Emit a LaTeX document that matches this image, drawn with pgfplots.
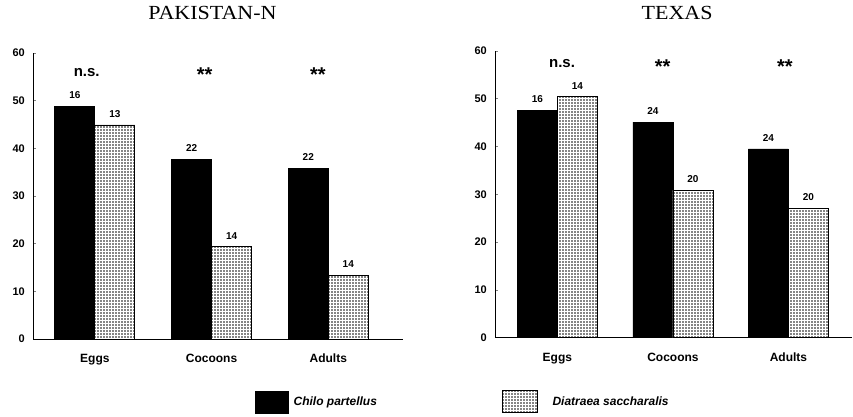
\documentclass[border=0pt]{standalone}
\usepackage{fontspec}
\setmainfont{Liberation Sans}
\newfontfamily\titlefont{Liberation Serif}
\usepackage{pgfplots}
\pgfplotsset{compat=1.18}
\usetikzlibrary{patterns}

\pgfplotstableread{
x y label
0 48.8 16
1 37.7 22
2 35.8 22
}\pakblack
\pgfplotstableread{
x y label
0 44.9 13
1 19.4 14
2 13.4 14
}\pakgrey
\pgfplotstableread{
x y label
-0.07 56.0 n.s.
}\pakns
\pgfplotstableread{
x y label
0.94 55.4 **
1.91 55.4 **
}\pakstars
\pgfplotstableread{
x y label
0 47.6 16
1 45.1 24
2 39.5 24
}\texblack
\pgfplotstableread{
x y label
0 50.4 14
1 30.9 20
2 27.1 20
}\texgrey
\pgfplotstableread{
x y label
0.04 57.4 n.s.
}\texns
\pgfplotstableread{
x y label
0.91 56.8 **
1.97 56.8 **
}\texstars

\colorlet{hatchgrey}{black!48}
\pgfplotsset{
 panel/.style={
  scale only axis, ymin=0, ymax=60, ytick={0,10,...,60},
  axis x line=bottom, axis y line=left, axis line style={-, line width=0.8pt},
  xtick={0,1,2}, xticklabels={Eggs,Cocoons,Adults},
  xtick style={draw=none},
  ytick style={line width=0.8pt}, tick align=inside, major tick length=3pt,
  /pgf/number format/assume math mode=true,
  yticklabel style={font=\fontsize{11}{12}\selectfont\bfseries, inner sep=0pt, xshift=-8pt},
  xticklabel style={font=\fontsize{12}{13}\selectfont\bfseries, inner sep=0pt, yshift=-15pt},
  title style={font=\titlefont\fontsize{20}{22}\selectfont, anchor=center, inner sep=0pt},
  clip=false,
 },
 blackbar/.style={forget plot, ybar, bar width=40pt, bar shift=-20pt, fill=black, draw=black, line width=0.8pt,
   nodes near coords, point meta=explicit symbolic,
   nodes near coords style={font=\fontsize{10}{11}\selectfont\bfseries, text=black, inner sep=0pt, anchor=south, yshift=7pt, xshift=-20pt}},
 greybar/.style={forget plot, ybar, bar width=40pt, bar shift=20pt, fill=hatchgrey, draw=black, line width=0.8pt,
   postaction={pattern=grid, pattern color=white},
   nodes near coords, point meta=explicit symbolic,
   nodes near coords style={font=\fontsize{10}{11}\selectfont\bfseries, text=black, inner sep=0pt, anchor=south, yshift=7pt, xshift=20pt}},
 ns/.style={forget plot, draw=none, mark=none, nodes near coords, point meta=explicit symbolic,
   nodes near coords style={font=\fontsize{15}{16}\selectfont\bfseries, inner sep=0pt, anchor=center}},
 stars/.style={forget plot, draw=none, mark=none, nodes near coords, point meta=explicit symbolic,
   nodes near coords style={font=\fontsize{20}{22}\selectfont\bfseries, inner sep=0pt, anchor=center}},
}

\begin{document}
\begin{tikzpicture}
\useasboundingbox (0pt,0pt) rectangle (853pt,416pt);
\begin{axis}[panel, at={(33pt,77pt)}, anchor=south west,
  width=370pt, height=286pt, xmin=-0.53, xmax=2.64,
  title={\scalebox{1.1}[1]{PAKISTAN-N}},
  title style={at={(0.485,1.12)}},
  legend style={at={(0.6,-0.26)}, anchor=south west, draw=none, fill=none, inner sep=0pt,
    font=\fontsize{12}{13}\selectfont\bfseries\itshape,
    /tikz/every odd column/.append style={column sep=3pt},
    /tikz/every even column/.append style={column sep=123pt}},
  legend columns=2, legend cell align=left,
]
\addplot[blackbar] table[x=x, y=y, meta=label] {\pakblack};
\addplot[greybar] table[x=x, y=y, meta=label] {\pakgrey};
\addplot[ns] table[x=x, y=y, meta=label] {\pakns};
\addplot[stars] table[x=x, y=y, meta=label] {\pakstars};
\addlegendimage{legend image code/.code={\draw[fill=black, draw=black] (0pt,-11pt) rectangle (33pt,11pt);}}
\addlegendentry{Chilo partellus}
\addlegendimage{legend image code/.code={\draw[fill=hatchgrey, draw=black, line width=0.8pt, postaction={pattern=grid, pattern color=white}] (0pt,-11pt) rectangle (35pt,11pt); \path (45pt,0pt);}}
\addlegendentry{Diatraea saccharalis}
\end{axis}
\begin{axis}[panel, at={(495pt,78.3pt)}, anchor=south west,
  width=357pt, height=286.7pt, xmin=-0.54, xmax=2.55,
  title={\scalebox{1.1}[1]{TEXAS}},
  title style={at={(0.51,1.113)}},
]
\addplot[blackbar] table[x=x, y=y, meta=label] {\texblack};
\addplot[greybar] table[x=x, y=y, meta=label] {\texgrey};
\addplot[ns] table[x=x, y=y, meta=label] {\texns};
\addplot[stars] table[x=x, y=y, meta=label] {\texstars};
\end{axis}
\end{tikzpicture}
\end{document}
